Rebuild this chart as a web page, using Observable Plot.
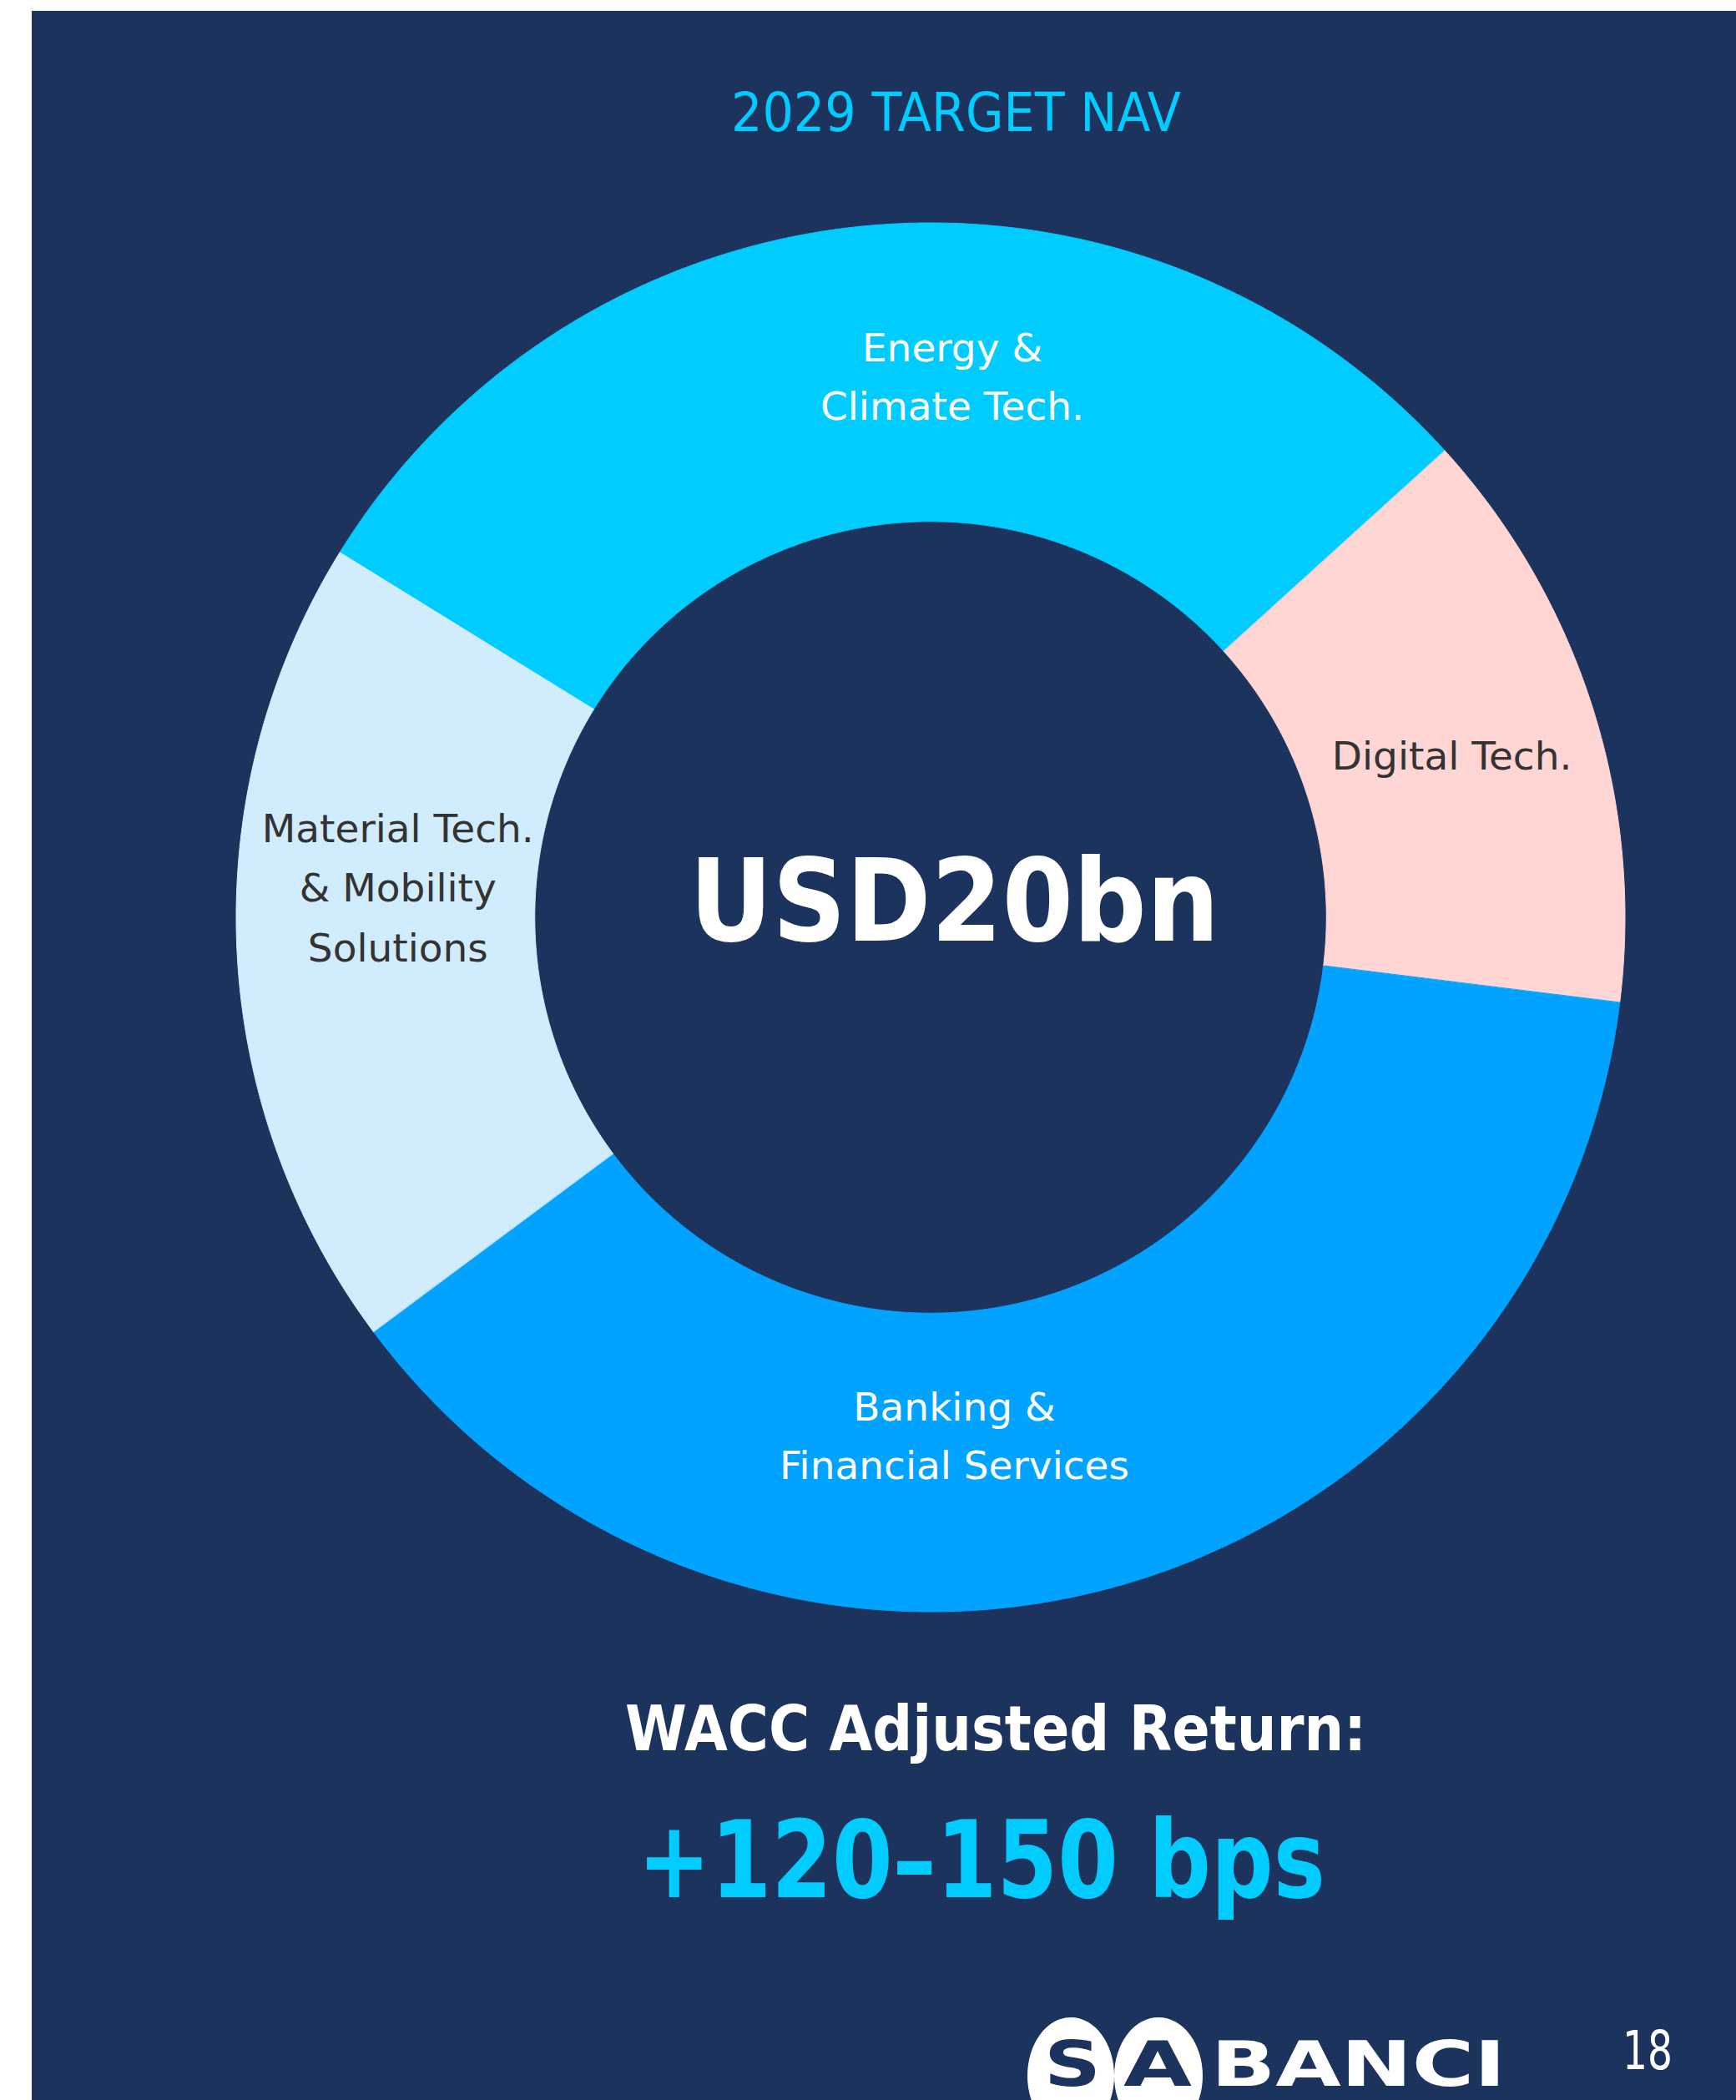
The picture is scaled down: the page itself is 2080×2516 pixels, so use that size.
<!DOCTYPE html>
<html>
<head>
<meta charset="utf-8">
<script src="https://cdn.jsdelivr.net/npm/d3@7"></script>
<script src="https://cdn.jsdelivr.net/npm/@observablehq/plot@0.6"></script>
<style>
  html, body { margin: 0; padding: 0; background: #ffffff; width: 2080px; height: 2516px; overflow: hidden; }
  #panel { position: absolute; left: 38px; top: 13px; width: 2042px; height: 2503px; background: #1C335E; }
  #chart { position: absolute; left: 0; top: 0; }
</style>
</head>
<body>
<div id="panel"></div>
<div id="chart"></div>
<script>
// ---------------- DATA ----------------
const categories = [
  "Energy & Climate Tech.",
  "Digital Tech.",
  "Banking & Financial Services",
  "Material Tech. & Mobility Solutions"
];
const shares = [29.5, 13.7, 37.9, 19.0];          // % of 2029 target NAV (read from the ring)
const labelLines = [
  ["Energy &", "Climate Tech."],
  ["Digital Tech."],
  ["Banking &", "Financial Services"],
  ["Material Tech.", "& Mobility", "Solutions"]
];
const sliceColors = ["#00CCFF", "#FFD6D3", "#00A3FF", "#D0ECFD"];
const labelInk = ["#FFFFFF", "#333333", "#FFFFFF", "#333333"];
const titleText = "2029 TARGET NAV";
const centerText = "USD20bn";
const returnLabel = "WACC Adjusted Return:";
const returnValue = "+120\u2013150 bps";
const pageNumber = "18";
const logoText = ["S", "A", "BANCI"];

// ---------------- LAYOUT ----------------
const W = 2080, H = 2516;
const CX = 1115, CY = 1099, R = 832;     // ring centre and outer radius in px
const rOuter = 1, rInner = 0.57;
const startDeg = -58.3;                  // clockwise from 12 o'clock
const labelNudgeDeg = [7.5, 0.2, 12.2, 5.8];
const labelRadius = [0.781, 0.786, 0.746, 0.769];
const NAVY = "#1C335E", CYAN = "#00CCFF";

// build annular sectors from the shares
const total = d3.sum(shares);
let acc = 0;
const slices = categories.map((c, i) => {
  const a0 = startDeg + acc / total * 360;
  acc += shares[i];
  const a1 = startDeg + acc / total * 360;
  return {cat: c, i, a0, a1};
});
const ring = slices.flatMap(s => {
  const n = Math.ceil((s.a1 - s.a0) / 0.25);
  return d3.range(n + 1).map(k => {
    const a = (s.a0 + (s.a1 - s.a0) * k / n) * Math.PI / 180;
    return {
      cat: s.cat,
      x1: rInner * Math.sin(a), y1: rInner * Math.cos(a),
      x2: rOuter * Math.sin(a), y2: rOuter * Math.cos(a)
    };
  });
});
const labels = slices.map(s => {
  const a = ((s.a0 + s.a1) / 2 + labelNudgeDeg[s.i]) * Math.PI / 180;
  const r = labelRadius[s.i];
  return {cat: s.cat, text: labelLines[s.i].join("\n"), ink: labelInk[s.i],
          x: r * Math.sin(a), y: r * Math.cos(a)};
});

const labelFont = "DejaVu Sans";
const plot = Plot.plot({
  width: W, height: H, margin: 0,
  style: {background: "transparent", overflow: "visible"},
  x: {domain: [-CX / R, (W - CX) / R], axis: null},
  y: {domain: [-(H - CY) / R, CY / R], axis: null},
  color: {domain: categories, range: sliceColors},
  marks: [
    Plot.area(ring, {x1: "x1", y1: "y1", x2: "x2", y2: "y2", z: "cat",
      fill: "cat", stroke: "cat", strokeWidth: 1, curve: "linear"}),
    Plot.text(labels, {filter: d => d.ink === "#FFFFFF", x: "x", y: "y", text: "text", dy: -5,
      fill: "#FFFFFF", fontSize: 47, fontFamily: labelFont, lineHeight: 1.5, textAnchor: "middle"}),
    Plot.text(labels, {filter: d => d.ink !== "#FFFFFF", x: "x", y: "y", text: "text", dy: -5,
      fill: "#333333", fontSize: 47, fontFamily: labelFont, lineHeight: 1.52, textAnchor: "middle"})
  ]
});
document.getElementById("chart").appendChild(plot);

// ---------------- ANNOTATION TEXT ----------------
const svg = d3.select(plot);
const g = svg.append("g").attr("text-anchor", "start");
function fitText(str, x, y, len, size, fill, weight, family) {
  return g.append("text")
    .attr("x", x).attr("y", y)
    .attr("text-anchor", "start")
    .attr("textLength", len).attr("lengthAdjust", "spacingAndGlyphs")
    .attr("font-family", family || "DejaVu Sans")
    .attr("font-size", size).attr("font-weight", weight || "normal")
    .attr("fill", fill).text(str);
}
fitText(titleText, 876, 157, 539, 64.5, CYAN, "normal");
fitText(centerText, 826, 1127, 635, 137, "#FFFFFF", "bold");
fitText(returnLabel, 749, 2097, 888, 74, "#FFFFFF", "bold");
fitText(returnValue, 764, 2273, 824, 129, CYAN, "bold");
fitText(pageNumber, 1944, 2479, 60, 64.5, "#FFFFFF", "normal");

// logo
g.append("ellipse").attr("cx", 1283).attr("cy", 2487).attr("rx", 52).attr("ry", 70).attr("fill", "#FFFFFF");
g.append("ellipse").attr("cx", 1388).attr("cy", 2487).attr("rx", 53).attr("ry", 70).attr("fill", "#FFFFFF");
fitText(logoText[0], 1251, 2499, 68, 75.4, NAVY, "bold");
fitText(logoText[1], 1346, 2499, 82, 75.4, NAVY, "bold");
fitText(logoText[2], 1451, 2499, 353, 75.4, "#FFFFFF", "bold");
</script>
</body>
</html>
